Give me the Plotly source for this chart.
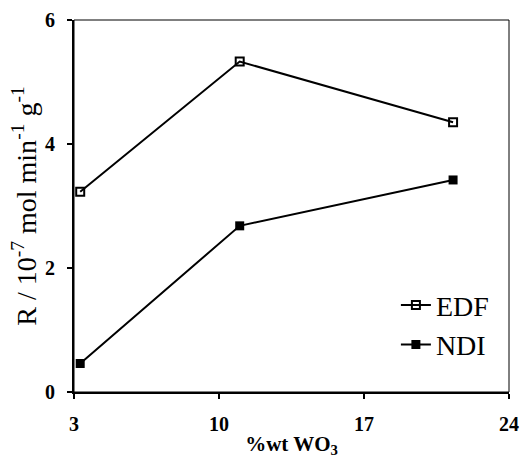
import plotly.graph_objects as go

x_wt = [3.3, 11.0, 21.3]
edf = [3.23, 5.33, 4.35]
ndi = [0.46, 2.68, 3.42]
x_ticks = [3, 10, 17, 24]
y_ticks = [0, 2, 4, 6]

font = "Liberation Serif"

fig = go.Figure()
fig.add_trace(go.Scatter(x=x_wt, y=edf, name="EDF", mode="lines+markers",
                         line=dict(color="black", width=2),
                         marker=dict(symbol="square-open", size=8, color="black", line=dict(width=2))))
fig.add_trace(go.Scatter(x=x_wt, y=ndi, name="NDI", mode="lines+markers",
                         line=dict(color="black", width=2),
                         marker=dict(symbol="square", size=9, color="black")))

fig.add_shape(type="rect", xref="paper", yref="paper", x0=0, y0=0, x1=1, y1=1,
              line=dict(color="black", width=1))

fig.update_layout(
    width=520, height=458,
    margin=dict(l=74, r=11, t=20, b=66),
    paper_bgcolor="white", plot_bgcolor="white",
    font=dict(family=font, color="black", size=18),
    showlegend=True,
    legend=dict(x=0.74, y=0.3, xanchor="left", yanchor="top",
                bgcolor="rgba(0,0,0,0)", font=dict(size=28, family=font),
                itemwidth=30, tracegroupgap=0),
    xaxis=dict(range=[3, 24], tickvals=x_ticks, ticks="outside", ticklen=5,
               tickwidth=1.5, tickcolor="black", showline=True, linewidth=2,
               linecolor="black", showgrid=False, zeroline=False,
               ticklabelstandoff=8, automargin=False,
               tickfont=dict(size=20, family=font, weight="bold"),
               title=dict(text="<b>%wt WO<sub>3</sub></b>", font=dict(size=21, family=font), standoff=4)),
    yaxis=dict(range=[0, 6], tickvals=y_ticks, ticks="outside", ticklen=5,
               tickwidth=1.5, tickcolor="black", showline=True, linewidth=2,
               linecolor="black", showgrid=False, zeroline=False,
               ticklabelstandoff=8, automargin=False,
               tickfont=dict(size=20, family=font, weight="bold"),
               title=dict(text="R / 10<sup>-7</sup> mol min<sup>-1</sup> g<sup>-1</sup>",
                          font=dict(size=28, family=font), standoff=0)),
)

fig.write_html("out.html")
